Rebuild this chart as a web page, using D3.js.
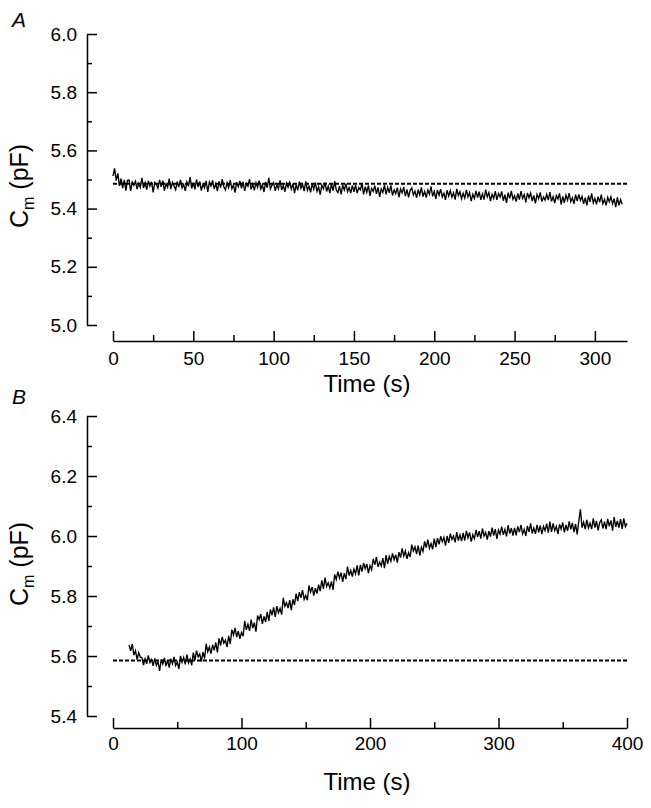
<!DOCTYPE html>
<html><head><meta charset="utf-8">
<script src="https://cdn.jsdelivr.net/npm/d3@7"></script>
<style>
body{margin:0;background:#fff}
svg{display:block}
text{font-family:"Liberation Sans",Arial,Helvetica,sans-serif;fill:#000}
</style>
</head><body>
<svg id="chart" width="651" height="808"></svg>
<script>
// ---------- data ----------
const panelLetters = ["A", "B"];
const xTitle = "Time (s)";

// Panel A
const xDomainA = [0, 320];
const yDomainA = [5.0, 6.0];
const xMajorTicksA = [0, 50, 100, 150, 200, 250, 300];
const xMinorTicksA = [25, 75, 125, 175, 225, 275];
const yMajorTicksA = [5.0, 5.2, 5.4, 5.6, 5.8, 6.0];
const yMinorTicksA = [5.1, 5.3, 5.5, 5.7, 5.9];
const sampleStartA = 0, sampleStepA = 1;   // s
const cmA = [
5.512,5.538,5.496,5.521,5.478,5.503,5.470,5.499,5.462,5.497,
5.498,5.461,5.491,5.480,5.494,5.467,5.487,5.473,5.506,5.471,
5.489,5.465,5.495,5.477,5.492,5.456,5.490,5.483,5.470,5.499,
5.475,5.496,5.462,5.485,5.473,5.503,5.467,5.490,5.478,5.465,
5.493,5.474,5.499,5.471,5.483,5.461,5.492,5.476,5.508,5.469,
5.489,5.466,5.500,5.474,5.493,5.462,5.484,5.471,5.495,5.457,
5.491,5.477,5.497,5.468,5.486,5.460,5.494,5.472,5.501,5.475,
5.464,5.489,5.472,5.498,5.468,5.482,5.455,5.491,5.475,5.495,
5.470,5.492,5.461,5.486,5.477,5.501,5.466,5.484,5.463,5.489,
5.473,5.496,5.467,5.482,5.457,5.492,5.471,5.506,5.468,5.480,
5.489,5.461,5.483,5.468,5.497,5.464,5.480,5.458,5.487,5.473,
5.490,5.467,5.486,5.453,5.482,5.463,5.493,5.470,5.484,5.460,
5.494,5.463,5.477,5.456,5.486,5.467,5.489,5.459,5.475,5.448,
5.481,5.468,5.490,5.459,5.477,5.453,5.485,5.462,5.494,5.464,
5.455,5.477,5.449,5.481,5.464,5.486,5.458,5.472,5.453,5.480,
5.458,5.481,5.453,5.472,5.464,5.487,5.449,5.475,5.456,5.480,
5.444,5.470,5.459,5.479,5.451,5.473,5.440,5.468,5.456,5.481,
5.449,5.473,5.454,5.480,5.445,5.464,5.451,5.472,5.439,5.468,
5.454,5.474,5.443,5.466,5.439,5.463,5.471,5.447,5.460,5.437,
5.465,5.447,5.473,5.441,5.459,5.438,5.464,5.450,5.476,5.442,
5.459,5.433,5.464,5.446,5.467,5.440,5.453,5.430,5.463,5.443,
5.462,5.439,5.454,5.431,5.468,5.445,5.458,5.434,5.453,5.436,
5.464,5.440,5.455,5.426,5.449,5.435,5.461,5.438,5.458,5.430,
5.451,5.431,5.465,5.440,5.455,5.426,5.449,5.435,5.460,5.430,
5.452,5.440,5.459,5.427,5.448,5.420,5.455,5.435,5.461,5.432,
5.444,5.424,5.452,5.431,5.460,5.435,5.448,5.421,5.454,5.437,
5.453,5.426,5.445,5.418,5.449,5.434,5.456,5.424,5.440,5.429,
5.449,5.429,5.457,5.425,5.441,5.419,5.445,5.433,5.452,5.414,
5.442,5.420,5.446,5.429,5.453,5.424,5.437,5.416,5.448,5.426,
5.449,5.428,5.442,5.416,5.438,5.411,5.445,5.423,5.452,5.420,
5.435,5.415,5.441,5.422,5.448,5.417,5.432,5.411,5.439,5.424,
5.441,5.417,5.434,5.405,5.439,5.411,5.431,5.415
];
const baselineA = 5.485;
const baselineSpanA = [0, 320];

// Panel B
const xDomainB = [0, 400];
const yDomainB = [5.4, 6.4];
const xMajorTicksB = [0, 100, 200, 300, 400];
const xMinorTicksB = [50, 150, 250, 350];
const yMajorTicksB = [5.4, 5.6, 5.8, 6.0, 6.2, 6.4];
const yMinorTicksB = [5.5, 5.7, 5.9, 6.1, 6.3];
const sampleStartB = 12.5, sampleStepB = 1.25;   // s
const cmB = [
5.637,5.617,5.640,5.603,5.618,5.588,5.611,5.596,
5.595,5.570,5.591,5.574,5.602,5.578,5.588,5.567,
5.592,5.569,5.582,5.550,5.589,5.573,5.594,5.566,
5.586,5.561,5.591,5.574,5.597,5.568,5.580,5.557,
5.600,5.579,5.595,5.572,5.605,5.577,5.590,5.569,
5.611,5.586,5.618,5.597,5.607,5.581,5.613,5.591,
5.641,5.614,5.630,5.608,5.637,5.619,5.645,5.612,
5.659,5.635,5.664,5.643,5.653,5.630,5.667,5.640,
5.688,5.670,5.694,5.663,5.683,5.657,5.679,5.666,
5.717,5.687,5.706,5.684,5.721,5.693,5.711,5.681,
5.735,5.721,5.740,5.707,5.732,5.714,5.747,5.717,
5.755,5.736,5.762,5.730,5.766,5.744,5.759,5.738,
5.794,5.766,5.778,5.760,5.786,5.753,5.789,5.770,
5.808,5.783,5.813,5.794,5.820,5.789,5.802,5.786,
5.835,5.813,5.830,5.801,5.826,5.808,5.838,5.816,
5.852,5.824,5.861,5.832,5.844,5.827,5.849,5.820,
5.872,5.855,5.881,5.860,5.878,5.847,5.876,5.856,
5.898,5.868,5.885,5.865,5.890,5.874,5.902,5.869,
5.904,5.881,5.910,5.891,5.907,5.876,5.901,5.887,
5.924,5.904,5.930,5.897,5.913,5.900,5.926,5.893,
5.936,5.907,5.932,5.916,5.942,5.921,5.938,5.911,
5.946,5.928,5.959,5.933,5.950,5.924,5.944,5.930,
5.971,5.950,5.964,5.940,5.968,5.935,5.963,5.949,
5.982,5.961,5.988,5.959,5.975,5.956,5.991,5.963,
5.993,5.972,5.999,5.981,5.995,5.968,6.000,5.977,
6.008,5.988,6.000,5.979,6.013,5.985,6.004,5.983,
6.010,5.985,6.017,5.994,6.012,5.981,6.004,5.991,
6.020,5.997,6.016,5.991,6.025,6.000,6.012,5.988,
6.016,5.998,6.028,6.001,6.023,5.990,6.020,6.006,
6.031,6.004,6.022,5.999,6.036,6.008,6.026,6.001,
6.027,6.002,6.032,6.013,6.037,6.007,6.022,6.000,
6.034,6.014,6.042,6.009,6.027,6.007,6.037,6.012,
6.035,6.006,6.032,6.018,6.041,6.011,6.048,6.014,
6.042,6.018,6.032,6.007,6.039,6.023,6.045,6.012,
6.037,6.017,6.049,6.022,6.044,6.013,6.040,6.005,
6.050,6.089,6.028,6.046,6.023,6.054,6.027,6.043,
6.023,6.059,6.028,6.050,6.019,6.045,6.054,6.025,
6.048,6.023,6.057,6.032,6.052,6.018,6.063,6.030,
6.050,6.028,6.056,6.024,6.059,6.031,6.042
];
const baselineB = 5.585;
const baselineSpanB = [0, 400];

// ---------- drawing ----------
const svg = d3.select("#chart");
const fmt = d3.format(".1f");

const panels = [
  {letter: panelLetters[0], xDomain: xDomainA, yDomain: yDomainA,
   xMaj: xMajorTicksA, xMin: xMinorTicksA, yMaj: yMajorTicksA, yMin: yMinorTicksA,
   t0: sampleStartA, dt: sampleStepA, values: cmA, base: baselineA, baseSpan: baselineSpanA,
   yTop: 34, yBottom: 325, xAxisY: 341, letterY: 27, yLabelStart: 228, titleY: 392, xPad: 11},
  {letter: panelLetters[1], xDomain: xDomainB, yDomain: yDomainB,
   xMaj: xMajorTicksB, xMin: xMinorTicksB, yMaj: yMajorTicksB, yMin: yMinorTicksB,
   t0: sampleStartB, dt: sampleStepB, values: cmB, base: baselineB, baseSpan: baselineSpanB,
   yTop: 416, yBottom: 716, xAxisY: 728, letterY: 404, yLabelStart: 606, titleY: 790, xPad: 9}
];

const xLeft = 113, xRight = 627, yAxisX = 87;

panels.forEach(p => {
  const x = d3.scaleLinear().domain(p.xDomain).range([xLeft, xRight]);
  const y = d3.scaleLinear().domain(p.yDomain).range([p.yBottom, p.yTop]);

  // y axis (ticks pointing inward)
  const gy = svg.append("g").attr("transform", `translate(${yAxisX},0)`);
  gy.call(d3.axisLeft(y).tickValues(p.yMaj).tickSize(-10).tickSizeOuter(0)
      .tickPadding(10).tickFormat(fmt));
  gy.append("g").call(d3.axisLeft(y).tickValues(p.yMin).tickSize(-5).tickSizeOuter(0).tickFormat(""))
    .select(".domain").remove();

  // x axis (ticks pointing up)
  const gx = svg.append("g").attr("transform", `translate(0,${p.xAxisY})`);
  gx.call(d3.axisBottom(x).tickValues(p.xMaj).tickSize(-10).tickSizeOuter(0)
      .tickPadding(p.xPad).tickFormat(d3.format("d")));
  gx.append("g").call(d3.axisBottom(x).tickValues(p.xMin).tickSize(-6).tickSizeOuter(0).tickFormat(""))
    .select(".domain").remove();

  svg.selectAll(".domain, .tick line").attr("stroke", "#000").attr("stroke-width", 1.5);
  svg.selectAll(".tick text").attr("font-size", 19).attr("fill", "#000");

  // baseline (dashed)
  svg.append("line")
    .attr("x1", x(p.baseSpan[0])).attr("x2", x(p.baseSpan[1]))
    .attr("y1", y(p.base)).attr("y2", y(p.base))
    .attr("stroke", "#000").attr("stroke-width", 2).attr("stroke-dasharray", "4,2");

  // trace
  const pts = p.values.map((v, i) => [p.t0 + i * p.dt, v]);
  svg.append("path").datum(pts)
    .attr("fill", "none").attr("stroke", "#000").attr("stroke-width", 1.35)
    .attr("stroke-linejoin", "miter")
    .attr("d", d3.line().x(d => x(d[0])).y(d => y(d[1])));

  // panel letter
  svg.append("text").attr("x", 12).attr("y", p.letterY)
    .attr("font-size", 21).attr("font-style", "italic").text(p.letter);

  // y title
  const yt = svg.append("text")
    .attr("transform", `translate(28,${p.yLabelStart}) rotate(-90)`)
    .attr("font-size", 25);
  yt.append("tspan").text("C");
  yt.append("tspan").attr("font-size", 16).attr("dy", 6).text("m");
  yt.append("tspan").attr("dy", -6).text(" (pF)");

  // x title
  svg.append("text").attr("x", (xLeft + xRight) / 2 - 3).attr("y", p.titleY)
    .attr("text-anchor", "middle").attr("font-size", 24).text(xTitle);
});
</script>
</body></html>
